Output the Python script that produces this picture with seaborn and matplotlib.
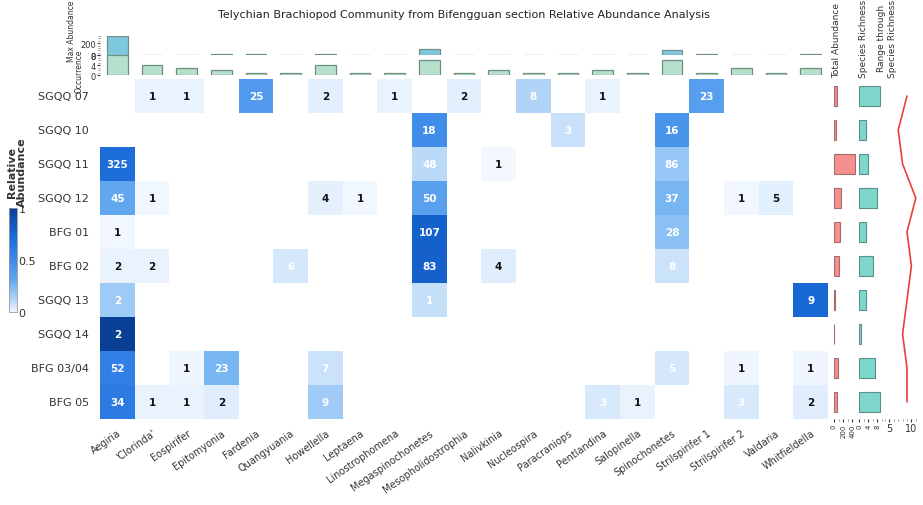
import matplotlib.pyplot as plt
import numpy as np
import pandas as pd
import seaborn as sns
from matplotlib.colors import LinearSegmentedColormap
from matplotlib.ticker import MultipleLocator

samples = ["SGQQ 07", "SGQQ 10", "SGQQ 11", "SGQQ 12", "BFG 01", "BFG 02",
           "SGQQ 13", "SGQQ 14", "BFG 03/04", "BFG 05"]
genera = ["Aegiria", "'Clorinda'", "Eospirifer", "Epitomyonia", "Fardenia",
          "Quangyuania", "Howellella", "Leptaena", "Linostrophomena",
          "Megaspinochonetes", "Mesopholidostrophia", "Nalivkinia", "Nucleospira",
          "Paracraniops", "Pentlandina", "Salopinella", "Spinochonetes",
          "Strilspirifer 1", "Strilspirifer 2", "Valdaria", "Whitfieldella"]

# specimen counts, one row per sample, columns follow `genera`
counts = [
    [0, 1, 1, 0, 25, 0, 2, 0, 1, 0, 2, 0, 8, 0, 1, 0, 0, 23, 0, 0, 0],
    [0, 0, 0, 0, 0, 0, 0, 0, 0, 18, 0, 0, 0, 3, 0, 0, 16, 0, 0, 0, 0],
    [325, 0, 0, 0, 0, 0, 0, 0, 0, 48, 0, 1, 0, 0, 0, 0, 86, 0, 0, 0, 0],
    [45, 1, 0, 0, 0, 0, 4, 1, 0, 50, 0, 0, 0, 0, 0, 0, 37, 0, 1, 5, 0],
    [1, 0, 0, 0, 0, 0, 0, 0, 0, 107, 0, 0, 0, 0, 0, 0, 28, 0, 0, 0, 0],
    [2, 2, 0, 0, 0, 6, 0, 0, 0, 83, 0, 4, 0, 0, 0, 0, 8, 0, 0, 0, 0],
    [2, 0, 0, 0, 0, 0, 0, 0, 0, 1, 0, 0, 0, 0, 0, 0, 0, 0, 0, 0, 9],
    [2, 0, 0, 0, 0, 0, 0, 0, 0, 0, 0, 0, 0, 0, 0, 0, 0, 0, 0, 0, 0],
    [52, 0, 1, 23, 0, 0, 7, 0, 0, 0, 0, 0, 0, 0, 0, 0, 5, 0, 1, 0, 1],
    [34, 1, 1, 2, 0, 0, 9, 0, 0, 0, 0, 0, 0, 0, 3, 1, 0, 0, 3, 0, 2],
]
range_through = [9, 7, 8, 11, 9, 10, 9, 8, 9, 9]

W, H = 923, 506


def box(x0, y0, x1, y1):
    # pixel box (top-left origin) -> figure fraction rect
    return [x0 / W, 1 - y1 / H, (x1 - x0) / W, (y1 - y0) / H]


df = pd.DataFrame(counts, index=samples, columns=genera)
rel = df.div(df.sum(axis=1), axis=0)
total_abundance = df.sum(axis=1)
richness = (df > 0).sum(axis=1)
occurrence = (df > 0).sum(axis=0)
max_abundance = df.max(axis=0)

cmap = LinearSegmentedColormap.from_list(
    "relab",
    [(0.0, "#f3f8fe"), (0.1, "#bcdaf8"), (0.2, "#8ec2f5"), (0.32, "#5ea5f0"),
     (0.58, "#2f7fe6"), (0.75, "#1767d6"), (1.0, "#0a3f96")])

sns.set_style("white")
plt.rcParams["font.family"] = ["DejaVu Sans"]
tick_col = "#333333"

fig = plt.figure(figsize=(W / 100, H / 100), dpi=100)
ax = fig.add_axes(box(100, 80, 828, 420))
cax = fig.add_axes(box(9, 209, 17, 313))

sns.heatmap(rel, mask=(df == 0), cmap=cmap, vmin=0, vmax=1, ax=ax, cbar_ax=cax,
            annot=df, fmt="d", linewidths=0,
            annot_kws={"fontsize": 7.5, "fontweight": "bold"})
for t in ax.texts:
    cx, cy = t.get_position()
    r = rel.iloc[int(cy), int(cx)]
    t.set_color("white" if r >= 0.05 else "#111111")

ax.set_xlabel("")
ax.set_ylabel("")
ax.tick_params(axis="both", length=0, colors=tick_col)
ax.set_yticklabels(samples, rotation=0, fontsize=8, color=tick_col)
ax.set_xticklabels(genera, rotation=35, ha="right", rotation_mode="anchor",
                   fontsize=7, color=tick_col)
ax.tick_params(axis="y", pad=8)
ax.tick_params(axis="x", pad=6)

cbar = ax.collections[0].colorbar
cbar.set_ticks([0, 0.5, 1])
cbar.set_ticklabels(["0", "0.5", "1"])
cax.tick_params(length=0, pad=1, labelsize=8, colors=tick_col)
cbar.outline.set_edgecolor("#999999")
cbar.outline.set_linewidth(0.6)
fig.text(17 / W, 1 - 172 / H, "Relative\nAbundance", rotation=90, ha="center",
         va="center", fontsize=8, fontweight="bold", color=tick_col,
         linespacing=1.0)

# top marginal panels: max abundance and occurrence per genus
xpos = np.arange(len(genera))
ax_max = fig.add_axes(box(100, 37, 828, 56))
ax_max.bar(xpos, max_abundance.values, width=0.6, color="#7ec8dd",
           edgecolor="#6f8f8a", linewidth=0.9)
ax_max.set_xlim(-0.5, len(genera) - 0.5)
ax_max.set_ylim(0, 330)
ax_max.set_yticks([0, 200])

ax_occ = fig.add_axes(box(100, 56, 828, 76))
ax_occ.bar(xpos, occurrence.values, width=0.6, color="#b6e0cc",
           edgecolor="#6e8f80", linewidth=0.9)
ax_occ.set_xlim(-0.5, len(genera) - 0.5)
ax_occ.set_ylim(0, 8)
ax_occ.set_yticks([0, 4, 8])

for a in (ax_max, ax_occ):
    a.set_xticks([])
    a.yaxis.set_minor_locator(MultipleLocator(a.get_ylim()[1] / 8))
    a.tick_params(axis="y", which="major", labelsize=6, length=2, pad=1,
                  colors=tick_col, left=True)
    a.tick_params(axis="y", which="minor", length=1.2, colors="#888888", left=True)
    a.patch.set_alpha(0)
    sns.despine(ax=a, left=True, bottom=True)

fig.text(71 / W, 1 - 31 / H, "Max Abundance", rotation=90, ha="center",
         va="center", fontsize=5.5, color=tick_col)
fig.text(79 / W, 1 - 71 / H, "Occurrence", rotation=90, ha="center",
         va="center", fontsize=5.5, color=tick_col)

# right marginal panels
ypos = np.arange(len(samples))
ax_tot = fig.add_axes(box(834, 80, 856, 420))
ax_tot.barh(ypos, total_abundance.values, height=0.6, color="#f4908e",
            edgecolor="#a86a6a", linewidth=0.8)
ax_tot.set_xlim(0, 480)
ax_tot.set_xticks([0, 200, 400])
ax_tot.xaxis.set_minor_locator(MultipleLocator(100))

ax_rich = fig.add_axes(box(859, 80, 882, 420))
ax_rich.barh(ypos, richness.values, height=0.6, color="#7fd6cc",
             edgecolor="#5a8f8a", linewidth=0.8)
ax_rich.set_xlim(0, 10)
ax_rich.set_xticks([0, 4, 8])
ax_rich.xaxis.set_minor_locator(MultipleLocator(2))

ax_rt = fig.add_axes(box(885, 80, 918, 420))
ax_rt.plot(range_through, ypos, color="#e8413c", linewidth=1.2)
ax_rt.set_xlim(4, 11.5)
ax_rt.set_xticks([5, 10])
ax_rt.xaxis.set_minor_locator(MultipleLocator(1))

for a, rot in ((ax_tot, 90), (ax_rich, 90), (ax_rt, 0)):
    a.set_ylim(len(samples) - 0.5, -0.5)
    a.set_yticks([])
    a.patch.set_alpha(0)
    a.tick_params(axis="x", which="major", labelsize=5, length=2, pad=1,
                  colors=tick_col, labelrotation=rot, bottom=True)
    a.tick_params(axis="x", which="minor", length=1.2, colors="#888888", bottom=True)
    sns.despine(ax=a, left=True, bottom=True)
ax_rt.tick_params(axis="x", which="major", labelsize=7)

fig.text(837 / W, 1 - 78 / H, "Total Abundance", rotation=90, ha="center",
         va="bottom", fontsize=6.5, color=tick_col)
fig.text(863 / W, 1 - 78 / H, "Species Richness", rotation=90, ha="center",
         va="bottom", fontsize=6.5, color=tick_col)
fig.text(887 / W, 1 - 78 / H, "Range through\nSpecies Richness", rotation=90,
         ha="center", va="bottom", fontsize=6.5, color=tick_col)

fig.text(464 / W, 1 - 15 / H,
         "Telychian Brachiopod Community from Bifengguan section Relative Abundance Analysis",
         ha="center", va="center", fontsize=8, color="#222222")

fig.savefig("out.png", dpi=100, facecolor="white")
plt.close(fig)
